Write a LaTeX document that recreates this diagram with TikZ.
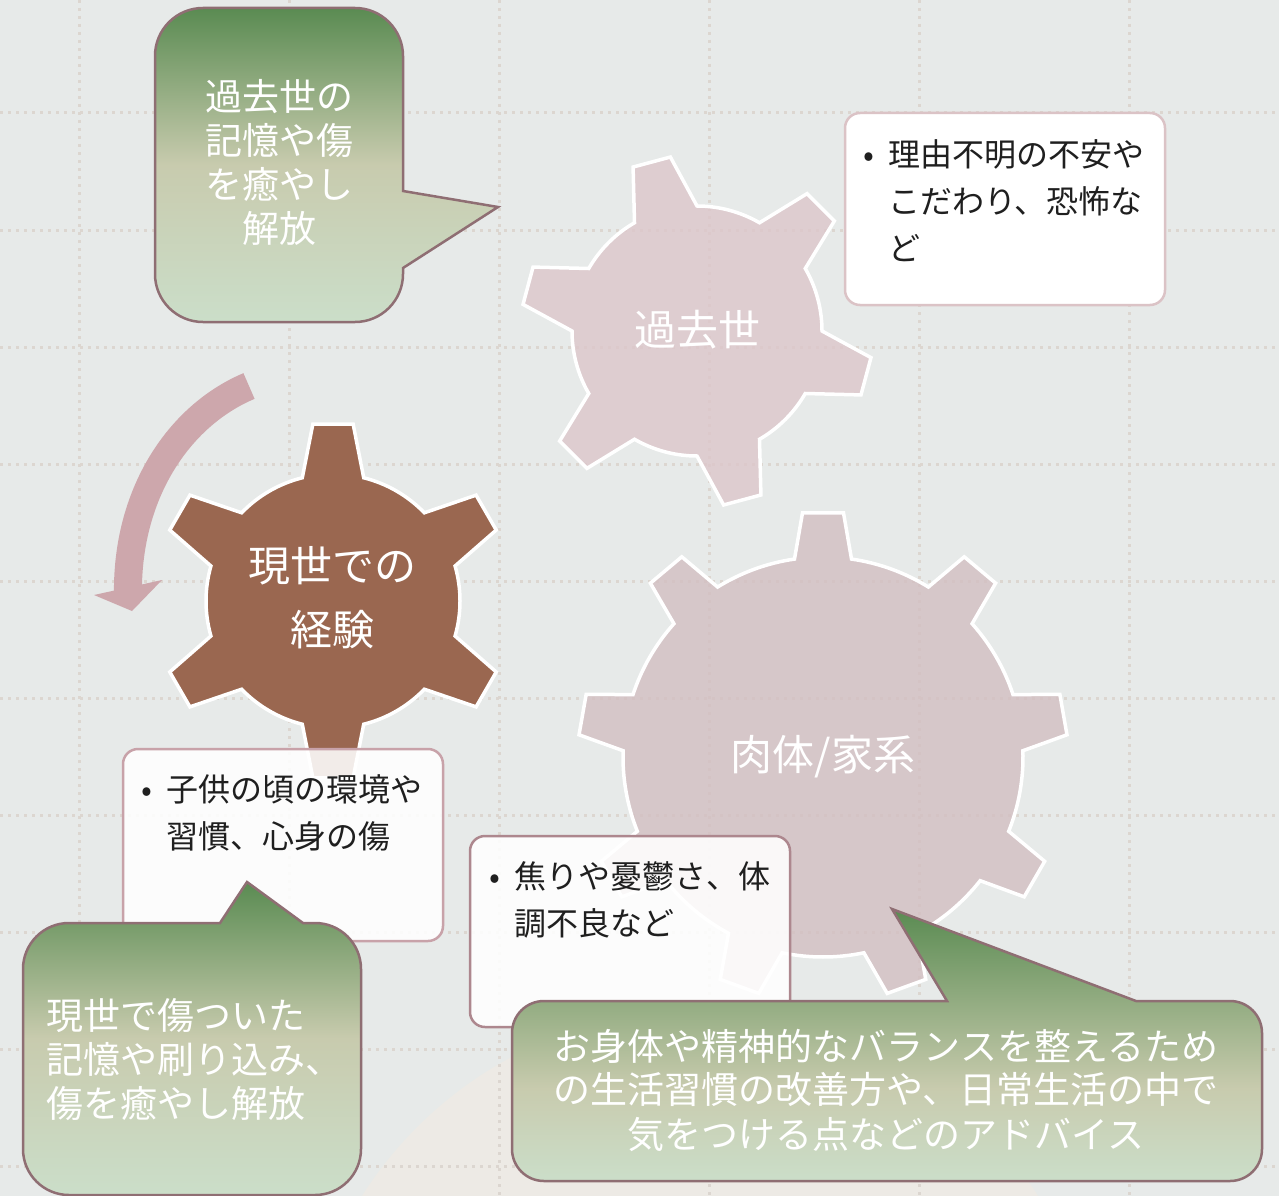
\documentclass[tikz,border=0pt]{standalone}
\usepackage{fontspec}
\setmainfont{Noto Sans CJK JP}
\usetikzlibrary{calc}
\definecolor{bgc}{HTML}{E7EAE9}
\definecolor{griddot}{HTML}{DCD6D0}
\definecolor{beigebg}{HTML}{EDEAE5}
\definecolor{gearA}{HTML}{DCC6CA}
\definecolor{gearB}{HTML}{D2BFC1}
\definecolor{gearBrown}{HTML}{9A6750}
\definecolor{arrowc}{HTML}{CDA7AC}
\definecolor{bubedge}{HTML}{8F6E73}
\definecolor{gtop}{HTML}{5A8B52}
\definecolor{gmid}{HTML}{C8CBAE}
\definecolor{gbot}{HTML}{CBDEC9}
\definecolor{boxedgeA}{HTML}{DBC3C6}
\definecolor{boxedgeB}{HTML}{C8A2A9}
\definecolor{boxedgeC}{HTML}{AD878E}
\pgfdeclareverticalshading{bubA}{100bp}{color(0bp)=(gbot); color(25bp)=(gbot); color(50bp)=(gmid); color(75bp)=(gtop); color(100bp)=(gtop)}
\pgfdeclareverticalshading{bubB}{100bp}{color(0bp)=(gbot); color(25bp)=(gbot); color(42bp)=(gmid); color(75bp)=(gtop); color(100bp)=(gtop)}
% #1 cx, #2 cy, #3 body radius, #4 tip radius, #5 base half angle, #6 tip half angle,
% #7 first tooth angle, #8 number of teeth, #9 style
\newcommand\drawgear[9]{%
  \path[#9] ({#1+#3*cos(#7-#5)},{#2-#3*sin(#7-#5)})
    foreach \k in {1,...,#8} {
      -- ({#1+#4*cos(#7+(\k-1)*360/#8-#6)},{#2-#4*sin(#7+(\k-1)*360/#8-#6)})
      -- ({#1+#4*cos(#7+(\k-1)*360/#8+#6)},{#2-#4*sin(#7+(\k-1)*360/#8+#6)})
      -- ({#1+#3*cos(#7+(\k-1)*360/#8+#5)},{#2-#3*sin(#7+(\k-1)*360/#8+#5)})
      arc[start angle={#7+(\k-1)*360/#8+#5}, end angle={#7+\k*360/#8-#5}, radius=#3pt]
    } -- cycle;
}
\newcommand\bul{\makebox[25pt][l]{•}}
\newcommand\ind{\hspace*{25pt}}
\tikzset{
  gridline/.style={griddot, line width=3pt, dash pattern=on 3pt off 5pt},
  gearstyle/.style={fill=#1, draw=white, line width=3.5pt, line join=miter},
  geartext/.style={text=white, font=\fontsize{42}{64}\selectfont, align=center, inner sep=0pt},
  bubtext/.style={text=white, font=\fontsize{37}{44}\selectfont, inner sep=0pt},
  boxtext/.style={text=black!88, font=\fontsize{32}{47}\selectfont, align=left, inner sep=0pt, anchor=north west},
  textbox/.style={fill=white, line width=2.5pt, rounded corners=15pt},
  bubble/.style={draw=bubedge, line width=2.5pt, line join=miter},
}
\begin{document}
\begin{tikzpicture}[x=1pt,y=-1pt]
\fill[bgc] (0,0) rectangle (1279,1196);
\useasboundingbox (0,0) rectangle (1279,1196);
\begin{scope}
\clip (0,0) rectangle (1279,1196);
% faint beige disc
\fill[beigebg] (700,1410) circle[radius=400pt];
% dotted grid
\foreach \gx in {79,289,499,709,919,1129} {\draw[gridline] (\gx,0) -- (\gx,1196);}
\foreach \gy in {113,230,347,464,581,698,815,932,1049,1166} {\draw[gridline] (0,\gy) -- (1279,\gy);}
% gears
\drawgear{697}{331}{125}{176}{15}{6.3}{45}{6}{gearstyle=gearA, fill opacity=0.8}
\node[geartext] (g1label) at (697,330) {過去世};
\drawgear{823}{757}{200}{245}{8.2}{4.8}{-150}{9}{gearstyle=gearB, fill opacity=0.8}
\node[geartext] (g3label) at (823,757) {肉体/家系};
\drawgear{333}{601}{127}{178}{14}{6.5}{30}{6}{gearstyle=gearBrown}
\node[geartext] (g2label) at (332,598) {現世での\\経験};
% rotation arrow
\draw[arrowc, line width=28pt] (249,386) .. controls (178,416) and (126,495) .. (128,596);
\fill[arrowc] (94,595) -- (162,580) -- (132,611) -- cycle;
% text boxes
\draw[textbox, draw=boxedgeA] (845,113) rectangle (1165,305);
\node[boxtext] (box1text) at (863,139) {\bul 理由不明の不安や\\\ind こだわり、恐怖な\\\ind ど};
\draw[textbox, draw=boxedgeB, fill opacity=0.88] (123,749) rectangle (443,941);
\node[boxtext] (box2text) at (141,774) {\bul 子供の頃の環境や\\\ind 習慣、心身の傷};
\draw[textbox, draw=boxedgeC, fill opacity=0.88] (470,836) rectangle (790,1027);
\node[boxtext] (box3text) at (489,861) {\bul 焦りや憂鬱さ、体\\\ind 調不良など};
% callout bubbles
\path[bubble, shading=bubA] (203,8) -- (355,8) .. controls (381.5,8) and (403,29.5) .. (403,56) -- (403,191) -- (498,207) -- (403,268) -- (403,274) .. controls (403,300.5) and (381.5,322) .. (355,322) -- (203,322) .. controls (176.5,322) and (155,300.5) .. (155,274) -- (155,56) .. controls (155,29.5) and (176.5,8) .. (203,8) -- cycle;
\node[bubtext, align=center] (bub1text) at (279,162) {過去世の\\記憶や傷\\を癒やし\\解放};
\path[bubble, shading=bubA] (69,923) -- (220,923) -- (247,882) -- (303,923) -- (315,923) .. controls (340.4,923) and (361,943.6) .. (361,969) -- (361,1149) .. controls (361,1174.4) and (340.4,1195) .. (315,1195) -- (69,1195) .. controls (43.6,1195) and (23,1174.4) .. (23,1149) -- (23,969) .. controls (23,943.6) and (43.6,923) .. (69,923) -- cycle;
\node[bubtext, align=left, anchor=west] (bub2text) at (46,1060) {現世で傷ついた\\記憶や刷り込み、\\傷を癒やし解放};
\path[bubble, shading=bubB] (544,1001) -- (947,1001) -- (892,909) -- (1136,1001) -- (1230,1001) .. controls (1247.7,1001) and (1262,1015.3) .. (1262,1033) -- (1262,1149) .. controls (1262,1166.7) and (1247.7,1181) .. (1230,1181) -- (544,1181) .. controls (526.3,1181) and (512,1166.7) .. (512,1149) -- (512,1033) .. controls (512,1015.3) and (526.3,1001) .. (544,1001) -- cycle;
\node[bubtext, align=center] (bub3text) at (886,1090) {お身体や精神的なバランスを整えるため\\の生活習慣の改善方や、日常生活の中で\\気をつける点などのアドバイス};
\end{scope}
\end{tikzpicture}
\end{document}
